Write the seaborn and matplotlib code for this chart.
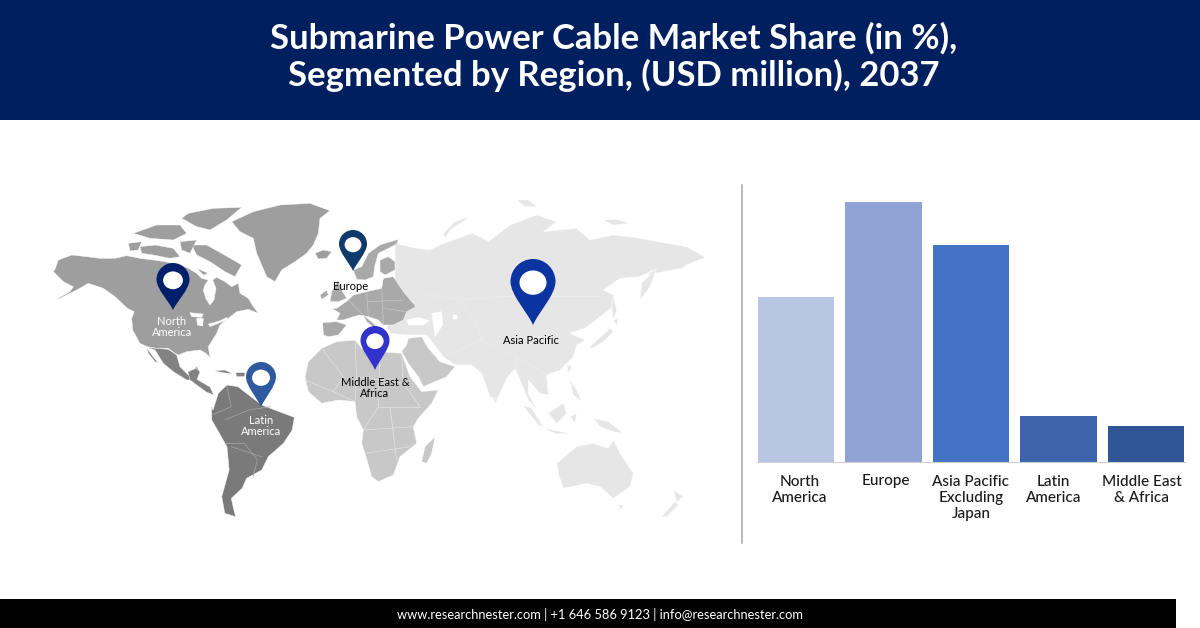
import matplotlib
matplotlib.use('Agg')
import matplotlib.pyplot as plt
from matplotlib.patches import Polygon, PathPatch, Ellipse, Rectangle
from matplotlib.path import Path
import pandas as pd
import seaborn as sns

# Bar chart values (share of the bars, no labels on the source)
regions = ['North\nAmerica', 'Europe', 'Asia Pacific\nExcluding\nJapan', 'Latin\nAmerica', 'Middle East\n& Africa']
shares = [22.8, 35.9, 30.0, 6.4, 5.0]
bar_colors = ['#b8c5e3', '#8fa2d4', '#4472c4', '#3c63ac', '#2f5597']

title_text = 'Submarine Power Cable Market Share (in %),\nSegmented by Region, (USD million), 2037'
footer_text = 'www.researchnester.com | +1 646 586 9123 | info@researchnester.com'

# Map outlines, traced on 3x crops of the picture. Each group has its own crop origin
ORIGIN_NA = (40, 190)
north_america = [(45,238),(55,210),(95,195),(140,200),(180,205),(225,205),(260,197),(300,205),(340,210),(375,215),(420,225),
    (445,235),(470,250),(485,265),(505,270),(495,285),(490,300),(497,325),(510,345),(522,330),(528,295),(518,270),(530,262),
    (555,275),(575,290),(595,280),(600,310),(625,325),(640,350),(655,370),(625,358),(590,365),(565,385),(540,405),(530,430),
    (505,470),(510,503),(498,490),(480,480),(440,485),(415,495),(405,490),(385,475),(350,475),(322,470),(300,460),(278,420),
    (275,385),(283,365),(262,355),(225,320),(190,295),(145,280),(110,300),(60,325),(45,330),(90,305),(100,290),(70,275),(40,245)]
arctic_islands = [
    [(455,165),(500,165),(545,190),(605,225),(585,260),(555,245),(510,215),(470,195)],
    [(300,170),(345,165),(400,175),(420,200),(390,205),(340,195),(305,190)],
    [(265,160),(305,155),(295,180),(270,183)],
    [(445,70),(520,55),(605,52),(560,90),(510,120),(470,110),(425,85)],
    [(280,130),(350,105),(420,105),(440,130),(400,150),(330,145)],
    [(420,155),(470,150),(450,190),(425,180)],
    [(470,235),(505,250),(490,255)],
]
greenland = [(575,95),(640,65),(720,45),(810,40),(870,62),(840,85),(835,130),(820,165),(800,190),(765,215),(725,240),(705,275),(680,260),(650,190),(640,145),(600,125)]
iceland = [(825,190),(850,180),(875,185),(860,205),(835,207)]
great_lakes = [[(450,368),(490,372),(485,382),(455,380)], [(470,385),(490,385),(488,408),(472,405)], [(505,402),(540,392),(562,382),(560,390),(510,410)]]
mexico = [(322,472),(350,475),(385,478),(410,495),(420,530),(445,555),(470,530),(480,545),(470,570),(440,570),(400,545),(370,520),(345,480)]
baja = [(320,475),(355,520),(345,515),(325,490)]

ORIGIN_SA = (40, 180)
central_america = [(340,575),(359,565),(368,576),(361,598),(391,621),(400,645),(382,636),(345,600)]
south_america = [(395,680),(398,690),(410,640),(430,615),(455,620),(475,640),(510,675),(540,690),(585,712),(580,750),(560,790),
    (525,830),(510,870),(475,895),(465,925),(440,955),(445,985),(450,1010),(425,1000),(418,950),(435,870),(430,800),(395,720)]
caribbean = [[(400,572),(425,570),(445,582),(420,578)], [(450,578),(472,578),(470,590),(452,590)]]
sa_borders = [[(430,620),(440,680),(395,705)], [(425,720),(480,690),(530,680)], [(470,790),(425,790)], [(440,800),(510,830)], [(470,790),(500,840),(490,890)]]

ORIGIN_EU = (300, 220)
scandinavia = [(160,150),(185,140),(205,100),(240,75),(295,58),(290,72),(265,85),(235,100),(225,135),(220,170),(195,180),(170,178)]
finland = [(240,120),(265,110),(285,125),(285,150),(255,165),(240,155)]
europe_main = [(110,265),(145,240),(160,225),(200,215),(245,205),(250,175),(280,170),(310,215),(348,260),(320,275),(310,300),
    (280,315),(250,315),(235,300),(205,290),(180,285),(160,290),(130,300),(110,300),(120,280),(95,265)]
italy = [(190,285),(220,310),(240,330),(225,325),(200,305)]
iberia = [(68,308),(110,305),(140,315),(115,345),(85,350),(70,345)]
uk = [(95,215),(115,180),(125,210),(140,235),(115,245),(90,245)]
ireland = [(60,225),(80,210),(85,225),(65,238)]
africa = [(15,470),(25,425),(65,385),(110,365),(165,360),(185,385),(240,395),(305,400),(330,470),(365,515),(415,510),(395,550),
    (355,595),(340,620),(350,670),(300,710),(280,765),(235,785),(215,770),(195,700),(185,670),(190,630),(170,590),(165,545),
    (115,540),(65,550),(25,515)]
arabia = [(305,395),(320,375),(325,355),(365,350),(385,385),(420,425),(465,440),(440,470),(370,500),(355,470),(325,430)]
madagascar = [(365,725),(375,680),(405,650),(395,700),(380,730)]
eu_borders = [[(145,240),(195,290)], [(200,215),(205,290)], [(205,245),(310,240)], [(245,205),(250,315)], [(250,265),(320,275)]]
africa_borders = [[(15,480),(100,515),(165,545)], [(65,385),(130,470),(100,515)], [(165,360),(170,470),(165,545)], [(240,395),(235,560),(190,630)],
    [(170,470),(310,490)], [(305,400),(310,490),(360,560)], [(190,630),(340,620)], [(195,700),(330,680)], [(235,560),(360,560)], [(270,560),(290,720)]]

ORIGIN_ASIA = (400, 200)
asia = [(-15,130),(50,145),(90,150),(120,135),(215,100),(240,110),(265,125),(330,75),(410,45),(470,65),(430,95),(530,85),(570,120),
    (640,105),(720,115),(800,130),(860,140),(915,172),(860,195),(845,205),(790,215),(740,225),(760,210),(720,230),(660,235),
    (610,270),(640,285),(640,320),(600,350),(555,385),(520,395),(510,400),(555,420),(530,435),(520,470),(480,510),(440,525),
    (445,585),(420,580),(385,540),(385,580),(410,630),(385,600),(360,540),(345,505),(320,535),(290,600),(270,590),(245,520),
    (215,495),(165,495),(130,470),(80,405),(20,405),(-30,400),(-40,378),(0,365),(-15,300)]
asia_islands = [
    [(570,440),(630,385),(640,395),(610,425),(575,445)], [(640,360),(655,355),(650,375)], [(640,285),(650,330),(640,360),(635,320)],
    [(720,300),(725,250),(770,205),(750,260)], [(130,100),(165,65),(210,50),(150,90),(135,115)], [(350,0),(385,0),(410,20),(375,20)],
    [(610,60),(650,58),(690,70),(640,75)], [(368,615),(395,625),(430,680),(415,675)], [(445,640),(490,610),(500,640),(470,670)],
    [(510,650),(530,640),(525,670)], [(430,685),(510,700),(470,702)], [(510,540),(530,570),(545,605),(520,585)],
    [(580,655),(625,665),(670,700),(640,695),(600,680)], [(500,495),(515,500),(505,520)], [(280,595),(292,600),(285,610)],
]
australia = [(470,790),(530,740),(580,730),(625,745),(640,720),(660,760),(700,820),(690,860),(640,895),(600,860),(560,850),(490,865),(478,830)]
tasmania = [(655,915),(670,915),(662,930)]
new_zealand = [[(785,950),(825,905),(835,915),(800,950)], [(820,870),(850,890),(830,905)]]
inland_seas = [[(20,360),(55,352),(88,362),(70,375),(25,375)], [(95,340),(125,335),(128,375),(105,410),(100,375)], [(158,345),(172,345),(172,358),(160,358)]]
asia_borders = [[(130,470),(245,420),(350,470),(440,525)], [(60,280),(180,300),(300,290),(440,290),(600,290)], [(180,300),(230,370),(245,420)], [(350,470),(345,505)]]

# x, top, bottom, width, colour of each pin (in pixels)
pins = [
    (173, 263, 310, 33, '#001f6b'),
    (353, 230, 271, 28, '#0f3a6b'),
    (533, 259, 325, 45, '#0b34a0'),
    (375, 326, 370, 29, '#3232cc'),
    (261, 362, 407, 30, '#2f5a9f'),
]

# text, x, y, colour
map_labels = [
    ('North\nAmerica', 172, 327, 'white'),
    ('Europe', 351, 287, 'black'),
    ('Asia Pacific', 531, 341, 'black'),
    ('Middle East &\nAfrica', 375, 388, 'black'),
    ('Latin\nAmerica', 261, 426, 'white'),
]

plt.rcParams['font.family'] = ['Lato', 'DejaVu Sans']


def to_pixels(points, origin):
    # the crops were taken at 3x, the South America one at 2.3x / 3x
    sx = 2.3 if origin == ORIGIN_SA else 3
    return [(origin[0] + x / sx, origin[1] + y / 3) for x, y in points]


def add_land(ax, outlines, origin, color, zorder=2):
    for outline in outlines:
        ax.add_patch(Polygon(to_pixels(outline, origin), closed=True, facecolor=color,
                             edgecolor='white', linewidth=0.3, joinstyle='round', zorder=zorder))


def add_lines(ax, lines, origin, color='white', width=0.5):
    for line in lines:
        pts = to_pixels(line, origin)
        ax.plot([p[0] for p in pts], [p[1] for p in pts], color=color, linewidth=width, zorder=3)


def draw_pin(ax, x, top, bottom, width, color):
    r = width / 2
    k = 0.55 * r
    mid = top + r
    verts = [(x, bottom),
             (x - 0.25 * r, bottom - 0.3 * (bottom - mid)), (x - r, mid + 0.6 * r), (x - r, mid),
             (x - r, mid - k), (x - k, top), (x, top),
             (x + k, top), (x + r, mid - k), (x + r, mid),
             (x + r, mid + 0.6 * r), (x + 0.25 * r, bottom - 0.3 * (bottom - mid)), (x, bottom)]
    codes = [Path.MOVETO] + [Path.CURVE4] * 12
    ax.add_patch(PathPatch(Path(verts, codes), facecolor=color, edgecolor='none', zorder=5))
    ax.add_patch(Ellipse((x, mid + 0.05 * r), 1.2 * r, 1.08 * r, facecolor='white', edgecolor='none', zorder=6))


fig = plt.figure(figsize=(12, 6.28), dpi=100)

# full picture axes in pixels, for banner, footer and map
bg = fig.add_axes([0, 0, 1, 1])
bg.set_xlim(0, 1200)
bg.set_ylim(628, 0)
bg.axis('off')

bg.add_patch(Rectangle((0, 0), 1200, 120, facecolor='#001f5f', edgecolor='none'))
bg.add_patch(Rectangle((0, 599), 1176, 29, facecolor='black', edgecolor='none'))
bg.text(614, 57, title_text, color='white', fontsize=24.9, fontweight='bold', ha='center', va='center', linespacing=1.18)
bg.text(600, 614.5, footer_text, color='white', fontsize=9.3, ha='center', va='center')

add_land(bg, [asia, australia, tasmania] + asia_islands + new_zealand, ORIGIN_ASIA, '#e6e6e6')
add_lines(bg, asia_borders, ORIGIN_ASIA, color='#eeeeee', width=0.5)
add_land(bg, [africa, arabia, madagascar], ORIGIN_EU, '#c8c8c8')
add_lines(bg, africa_borders, ORIGIN_EU, color='#e4e4e4')
add_land(bg, [europe_main, italy, iberia, scandinavia, finland, uk, ireland], ORIGIN_EU, '#a9a9a9')
add_lines(bg, eu_borders, ORIGIN_EU, color='#c8c8c8')
add_land(bg, [north_america, greenland, iceland] + arctic_islands, ORIGIN_NA, '#9e9e9e')
add_land(bg, [mexico, baja], ORIGIN_NA, '#828282')
add_land(bg, [central_america] + caribbean, ORIGIN_SA, '#828282')
add_land(bg, [south_america], ORIGIN_SA, '#7a7a7a')
add_lines(bg, sa_borders, ORIGIN_SA, color='#a8a8a8')
add_land(bg, great_lakes, ORIGIN_NA, 'white', zorder=3)
add_land(bg, inland_seas, ORIGIN_ASIA, 'white', zorder=3)

for x, top, bottom, width, color in pins:
    draw_pin(bg, x, top, bottom, width, color)
for text, x, y, color in map_labels:
    bg.text(x, y, text, color=color, fontsize=8, ha='center', va='center', zorder=7, linespacing=1.05)

bg.plot([741.5, 741.5], [185, 543], color='#a6a6a6', linewidth=1.1)

# bars
ax = fig.add_axes([757 / 1200, (628 - 462) / 628, (1185 - 757) / 1200, 260 / 628])
ax.patch.set_alpha(0)
df = pd.DataFrame({'region': regions, 'share': shares})
sns.barplot(data=df, x='region', y='share', hue='region', palette=bar_colors, saturation=1, width=0.87, legend=False, ax=ax)
ax.set_xlim(-0.445, 4.445)
ax.set_ylim(0, max(shares))
ax.set_xlabel('')
ax.set_ylabel('')
ax.set_yticks([])
# the source labels sit slightly off the bar centres
ax.set_xticks([0.046, 1.027, 1.998, 2.945, 3.95], regions)
ax.tick_params(axis='x', length=0, pad=9, labelsize=11, colors='#1a1a1a')
for label in ax.get_xticklabels():
    label.set_linespacing(1.2)
    label.set_fontweight('medium')
for side in ['top', 'left', 'right']:
    ax.spines[side].set_visible(False)
ax.spines['bottom'].set_color('#d0d0d0')

fig.savefig('out.png', dpi=100)
